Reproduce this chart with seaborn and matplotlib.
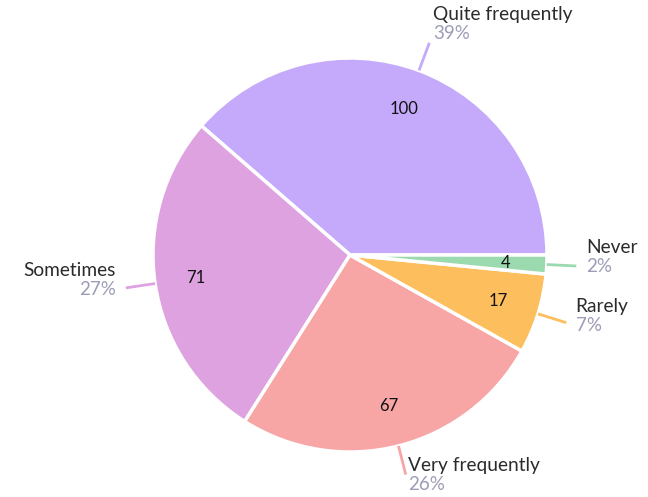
import numpy as np
import matplotlib
matplotlib.use("Agg")
import matplotlib.pyplot as plt
import seaborn as sns

# data, counter-clockwise from 3 o'clock
labels = ["Quite frequently", "Sometimes", "Very frequently", "Rarely", "Never"]
counts = [100, 71, 67, 17, 4]
colors = ["#C5AAFB", "#DFA2E0", "#F7A5A5", "#FDBF5E", "#9BD9AF"]

sns.set_style("white")
plt.rcParams['font.family'] = ['Lato', 'DejaVu Sans']

fig = plt.figure(figsize=(6.48, 4.97), dpi=100)
ax = fig.add_axes([0, 0, 1, 1])

pal = sns.color_palette(colors)
wedges, _ = ax.pie(counts, colors=pal, startangle=0, counterclock=True,
                   wedgeprops=dict(edgecolor="white", linewidth=2.5))

total = sum(counts)
for w, lab, c, col in zip(wedges, labels, counts, pal):
    mid = np.deg2rad((w.theta1 + w.theta2) / 2)
    cx, cy = np.cos(mid), np.sin(mid)
    # count inside the slice
    ax.text(0.79 * cx, 0.79 * cy, str(c), ha="center", va="center",
            fontsize=12, color="#111111")
    # leader line
    ax.plot([1.0 * cx, 1.15 * cx], [1.0 * cy, 1.15 * cy], color=col, lw=2,
            solid_capstyle="butt")
    ha = "left" if cx > 0 else "right"
    tx, ty = 1.2 * cx, 1.2 * cy
    ax.text(tx, ty + 0.095, lab, ha=ha, va="center", fontsize=13.8, color="#2b2b2b")
    ax.text(tx, ty, f"{round(c / total * 100)}%", ha=ha, va="center",
            fontsize=13.5, color="#9C9CB6")

ax.set_xlim(-350 / 197, (648 - 350) / 197)
ax.set_ylim(-(497 - 255) / 197, 255 / 197)
ax.set_aspect("auto")
ax.axis("off")

plt.savefig("out.png", dpi=100, facecolor="white")
plt.close()
